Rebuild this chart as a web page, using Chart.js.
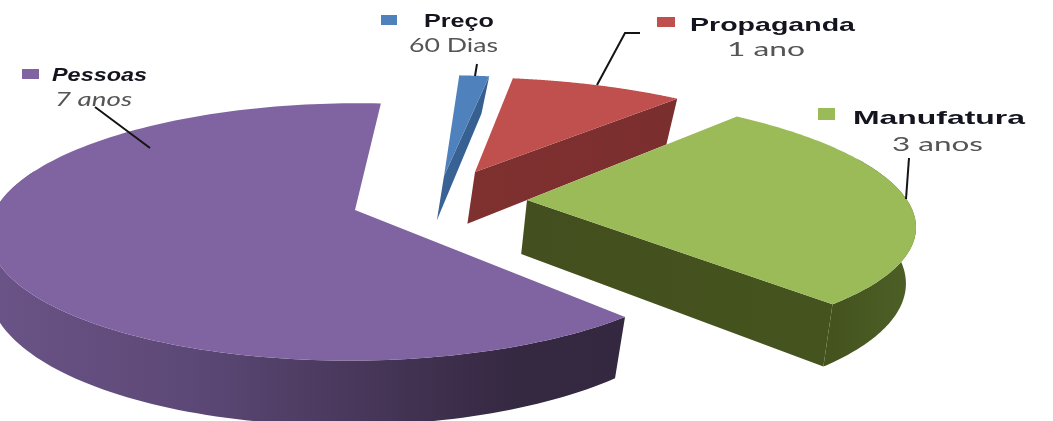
<!DOCTYPE html>
<html><head><meta charset="utf-8">
<style>html,body{margin:0;padding:0;background:#fff;overflow:hidden}canvas{display:block;filter:blur(.6px)}</style>
<script src="https://cdn.jsdelivr.net/npm/chart.js@4"></script></head>
<body><canvas id="c" width="1053" height="421"></canvas>
<script>
const categories = ['Pessoas','Preço','Propaganda','Manufatura'];
const durations = ['7 anos','60 Dias','1 ano','3 anos'];
const yearsValues = [7, 0.164, 1, 3];
const topColors = ['#8064a2','#4f81bd','#c0504d','#9bbb59'];

// view of each exploded slice: apex, radii, shear, perspective, wall shrink, wall depth scale, end face
const views = [
 {cx:355,cy:210,rx:360,ry:125,sh:-.04,p:.17,k:.016,d:.97,face:false,g:[0,650]},
 {cx:444,cy:176,rx:374,ry:116,sh:.075,p:.15,k:.016,d:.85,face:true,g:[430,490]},
 {cx:475,cy:172,rx:355,ry:109,sh:.13,p:.15,k:.016,d:1,face:true,g:[465,680]},
 {cx:527,cy:200,rx:380,ry:124,sh:.2,p:.15,k:.011,d:1,face:true,g:[520,915]}
];
const sideStops=[
 [[0,'#6a5386'],[.3,'#5c4876'],[.6,'#443455'],[.8,'#352841'],[1,'#342740']],
 [[0,'#3a6497'],[1,'#365e8f']],
 [[0,'#7f3130'],[1,'#7a2e2d']],
 [[0,'#434f1e'],[.8,'#45541f'],[1,'#4e6026']]
];
const labelSpec=[
 {mk:[22,69,17,10],name:[52,76,95],dur:[55,100,77],style:'italic ',lead:[[95,107],[150,148]]},
 {mk:[381,15,16,10],name:[424,22,70],dur:[409,46,89],style:'',lead:[[477,64],[475,76]]},
 {mk:[657,17,18,10],name:[690,26,165],dur:[727,50,78],style:'',lead:[[640,33],[625,33],[597,85]]},
 {mk:[818,108,17,12],name:[853,119,172],dur:[892,145,91],style:'',lead:[[909,158],[906,199]]}
];

function rim(v,a){const c=Math.cos(a),s=Math.sin(a),k=1/(1-v.p*s);
 const y=v.ry*s*k;return [v.cx+v.rx*c*k+v.sh*y,v.cy+y];}
function poly(ctx,pts){ctx.beginPath();pts.forEach((p,i)=>{i?ctx.lineTo(p[0],p[1]):ctx.moveTo(p[0],p[1]);});ctx.closePath();ctx.fill();}
function stretched(ctx,txt,x,y,w,font,color){ctx.save();ctx.font=font;ctx.fillStyle=color;ctx.textBaseline='middle';ctx.textAlign='left';
 const m=ctx.measureText(txt).width;ctx.translate(x,y);ctx.scale(w/m,1);ctx.fillText(txt,0,0);ctx.restore();}

const pie3d={id:'pie3d',
 beforeDatasetDraw(){return false;},
 afterDatasetsDraw(chart){
  const ctx=chart.ctx,arcs=chart.getDatasetMeta(0).data;
  [0,1,2,3].forEach(i=>{
   const v=views[i],{startAngle,endAngle}=arcs[i].getProps(['startAngle','endAngle'],true);
   const r=[],front=[],n=160;
   for(let j=0;j<=n;j++){const a=startAngle+(endAngle-startAngle)*j/n;const q=rim(v,a);r.push(q);
    if(Math.sin(a)>-.35)front.push(q);}
   const low=p=>[p[0]*(1-v.k),p[1]+v.d*(38+.08*p[1])];
   const g=ctx.createLinearGradient(v.g[0],0,v.g[1],0);
   sideStops[i].forEach(s=>g.addColorStop(s[0],s[1]));
   ctx.fillStyle=g;
   if(front.length>1)poly(ctx,[...front,...front.slice().reverse().map(low)]);
   const apex=[v.cx,v.cy],e=r[n];
   if(v.face)poly(ctx,[apex,e,low(e),low(apex)]);
   ctx.fillStyle=topColors[i];poly(ctx,[apex,...r]);
  });
  labelSpec.forEach((l,i)=>{
   ctx.fillStyle=topColors[i];ctx.fillRect(...l.mk);
   ctx.strokeStyle='#141414';ctx.lineWidth=2;ctx.beginPath();
   l.lead.forEach((p,j)=>j?ctx.lineTo(p[0],p[1]):ctx.moveTo(p[0],p[1]));ctx.stroke();
   stretched(ctx,categories[i],l.name[0],l.name[1],l.name[2],l.style+'bold 19px "Liberation Sans"','#14141e');
   stretched(ctx,durations[i],l.dur[0],l.dur[1],l.dur[2],l.style+'20px "Lato"','#555555');
  });
 }
};
new Chart(document.getElementById('c'),{
 type:'pie',
 data:{labels:categories,datasets:[{data:yearsValues,backgroundColor:topColors,borderWidth:0}]},
 options:{responsive:false,animation:false,rotation:138.3,devicePixelRatio:1,
  plugins:{legend:{display:false},tooltip:{enabled:false}}},
 plugins:[pie3d]
});
</script></body></html>
